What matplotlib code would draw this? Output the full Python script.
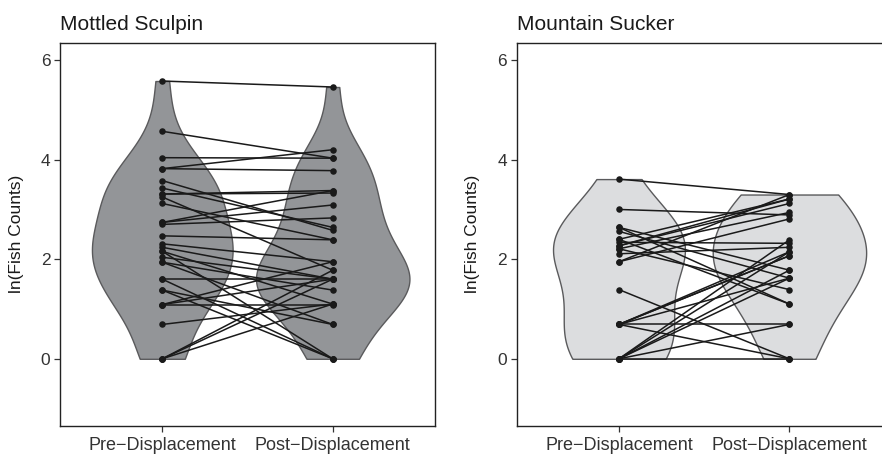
import matplotlib
matplotlib.use("Agg")
import matplotlib.pyplot as plt
import numpy as np

plt.rcParams['font.family'] = ['Liberation Sans', 'DejaVu Sans']

groups = ["Pre\u2212Displacement", "Post\u2212Displacement"]

# Mottled Sculpin, paired ln(counts): pre[i] -> post[i]
sculpin_pre = [5.58, 4.57, 4.04, 3.82, 3.82, 3.58, 3.43, 3.31, 3.31, 3.25, 3.12,
               2.74, 2.74, 2.70, 2.47, 2.31, 2.24, 2.16, 2.16, 2.04, 1.94, 1.94,
               1.60, 1.60, 1.38, 1.09, 1.09, 1.09, 0.69, 0.00, 0.00, 0.00, 1.38]
sculpin_post = [5.46, 4.03, 4.03, 4.20, 3.78, 2.58, 2.64, 3.38, 3.33, 1.78, 2.39,
                3.09, 3.38, 2.83, 2.39, 1.95, 1.60, 1.10, 0.00, 1.60, 1.38, 0.69,
                0.00, 1.60, 0.00, 1.09, 1.60, 1.95, 1.10, 1.60, 1.78, 1.10, 0.69]

# Mountain Sucker
sucker_pre = [3.61, 3.00, 2.64, 2.64, 2.56, 2.40, 2.40, 2.34, 2.27, 2.21, 2.21,
              2.11, 1.95, 1.95, 1.39, 0.69, 0.69, 0.69, 0.69, 0.69, 0.69, 0.00,
              0.00, 0.00, 0.00, 0.00, 2.27, 0.00]
sucker_post = [3.30, 2.89, 1.10, 1.78, 1.62, 3.21, 1.10, 2.32, 3.12, 2.94, 1.39,
               2.24, 3.30, 2.81, 0.00, 0.69, 2.15, 2.07, 1.62, 0.00, 2.07, 1.78,
               1.62, 2.15, 0.69, 2.39, 3.21, 0.00]


def nrd0(x):
    x = np.asarray(x)
    sd = np.std(x, ddof=1)
    q75, q25 = np.percentile(x, [75, 25])
    lo = min(sd, (q75 - q25) / 1.34)
    if lo == 0:
        lo = sd
    return 0.9 * lo * len(x) ** -0.2


def kde(x, adjust=1.0, n=512):
    x = np.asarray(x)
    bw = nrd0(x) * adjust
    y = np.linspace(x.min(), x.max(), n)
    d = np.exp(-0.5 * ((y[:, None] - x[None, :]) / bw) ** 2).sum(axis=1)
    d = d / (len(x) * bw * np.sqrt(2 * np.pi))
    return y, d


def panel(ax, title, pre, post, fill, adjust=1.0):
    dens = [kde(pre, adjust), kde(post, adjust)]
    dmax = max(d.max() for _, d in dens)
    for i, (y, d) in enumerate(dens):
        w = 0.45 * d / dmax
        ax.fill_betweenx(y, i + 1 - w, i + 1 + w, facecolor=fill,
                         edgecolor='#5a5a5c', linewidth=1.0, zorder=1)
    for a, b in zip(pre, post):
        ax.plot([1, 2], [a, b], color='#1a1a1a', linewidth=1.1, zorder=2)
    ax.scatter(np.ones(len(pre)), pre, s=22, color='#1a1a1a', zorder=3, linewidths=0)
    ax.scatter(np.full(len(post), 2), post, s=22, color='#1a1a1a', zorder=3, linewidths=0)

    ax.set_xlim(0.4, 2.6)
    ax.set_ylim(-1.35, 6.35)
    ax.set_xticks([1, 2])
    ax.set_xticklabels(groups)
    ax.set_yticks([0, 2, 4, 6])
    ax.tick_params(length=4, width=0.9, color='#333333', labelcolor='#333333',
                   labelsize=12.5, pad=3)
    ax.tick_params(axis='x', labelsize=13, pad=4)
    for s in ax.spines.values():
        s.set_color('#222222')
        s.set_linewidth(1.0)
    ax.set_ylabel("ln(Fish Counts)", fontsize=12.5, color='#1a1a1a')
    ax.yaxis.set_label_coords(-0.097, 0.5)
    ax.set_title(title, loc='left', fontsize=15, color='#1a1a1a', pad=9)


fig = plt.figure(figsize=(8.82, 4.55), dpi=100)
W, H = 882, 455
ax1 = fig.add_axes([60 / W, (H - 426) / H, 375 / W, 383.3 / H])
ax2 = fig.add_axes([516.7 / W, (H - 426) / H, 375 / W, 383.3 / H])

panel(ax1, "Mottled Sculpin", sculpin_pre, sculpin_post, '#939598')
panel(ax2, "Mountain Sucker", sucker_pre, sucker_post, '#dcdddf', adjust=1.5)

fig.savefig("out.png", dpi=100)
